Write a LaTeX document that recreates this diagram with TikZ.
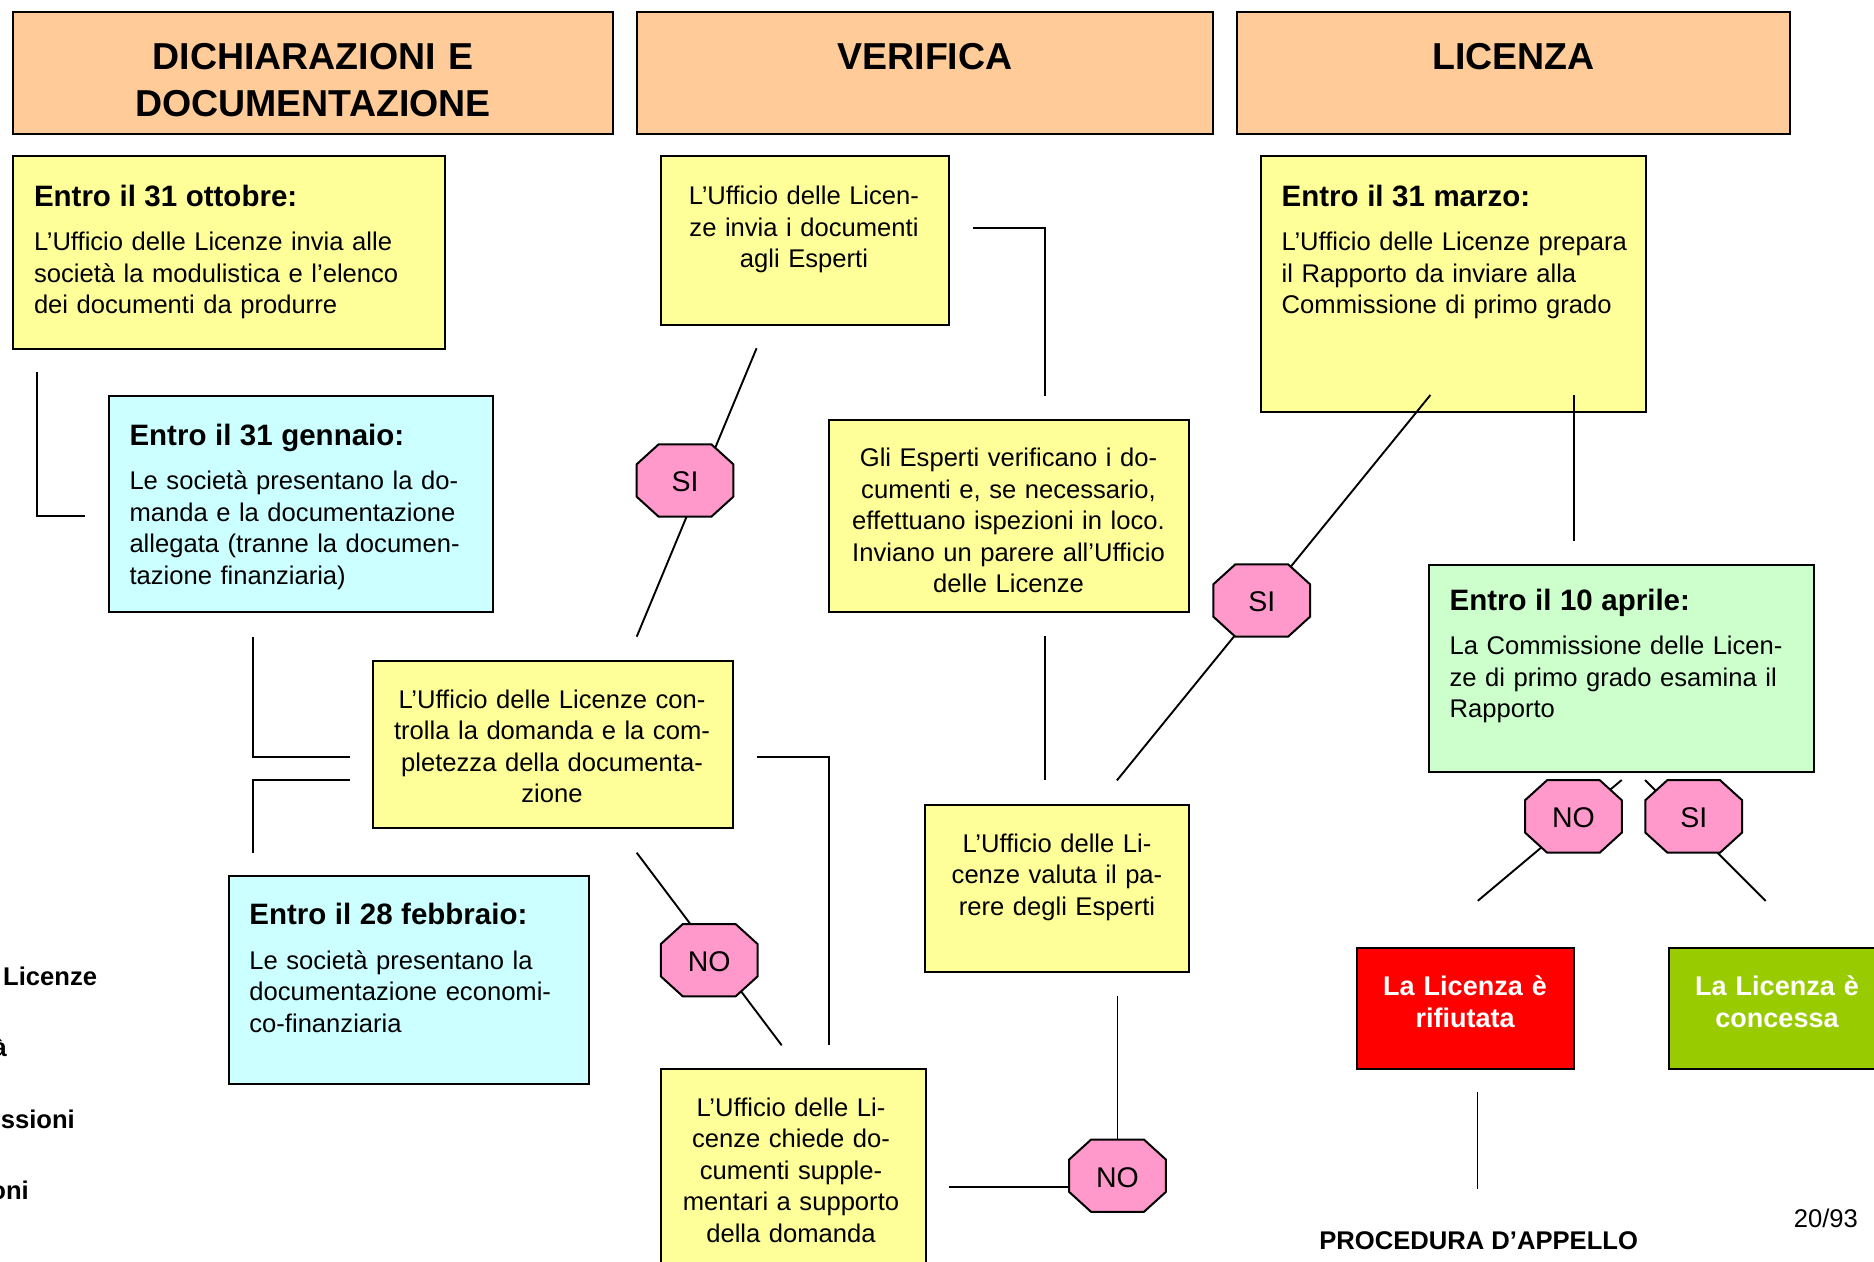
\documentclass[tikz,border=0pt]{standalone}
\usepackage{fontspec}
\setmainfont{Liberation Sans}
\usetikzlibrary{calc}
\definecolor{peach}{HTML}{FFCC99}
\definecolor{yel}{HTML}{FFFF99}
\definecolor{cyn}{HTML}{CCFFFF}
\definecolor{grn}{HTML}{CCFFCC}
\definecolor{pnk}{HTML}{FF99CC}
\definecolor{redc}{HTML}{FF0000}
\definecolor{lime}{HTML}{99CC00}
\newcommand\ttl[1]{{\fontsize{29.5}{31.5}\selectfont\bfseries #1}}
\newcommand\octagon[3]{%
  \filldraw[octshape] (#2) ++(-26.35,-36.2) -- ++(52.7,0) -- ++(22,20) -- ++(0,32.4)
    -- ++(-22,20) -- ++(-52.7,0) -- ++(-22,-20) -- ++(0,-32.4) -- cycle;
  \node[octtxt] (#1) at ($(#2)+(0,1.5)$) {#3};}
\tikzset{
  box/.style={draw=black, line width=2pt, anchor=north west, inner sep=0pt, outer sep=0pt},
  body/.style={font=\fontsize{25.6}{31.5}\selectfont, inner sep=0pt, outer sep=0pt},
  ltxt/.style={body, anchor=base west, align=left, text width=#1},
  ctxt/.style={body, anchor=base, align=center, text width=#1},
  hdr/.style={font=\fontsize{37.5}{46.9}\selectfont\bfseries, inner sep=0pt, anchor=base, align=center, text width=560pt},
  wtxt/.style={font=\fontsize{27}{31.7}\selectfont\bfseries, text=white, inner sep=0pt, anchor=base, align=center, text width=210pt},
  btxt/.style={font=\fontsize{25.6}{31.5}\selectfont\bfseries, inner sep=0pt},
  conn/.style={line width=1.9pt, draw=black},
  octshape/.style={fill=pnk, draw=black, line width=2pt},
  octtxt/.style={font=\fontsize{28.5}{31}\selectfont, inner sep=0pt},
}
\begin{document}
\begin{tikzpicture}[x=1pt, y=-1pt]
\useasboundingbox (0,0) rectangle (1874,1261);

% headers
\node[box, fill=peach, minimum width=600pt, minimum height=122pt] (h1) at (13,12) {};
\node[box, fill=peach, minimum width=576pt, minimum height=122pt] (h2) at (637,12) {};
\node[box, fill=peach, minimum width=553pt, minimum height=122pt] (h3) at (1237,12) {};
\node[hdr] (h1t) at (313,69.4) {DICHIARAZIONI E\\DOCUMENTAZIONE};
\node[hdr] (h2t) at (925,69.4) {VERIFICA};
\node[hdr] (h3t) at (1513.5,69.4) {LICENZA};

% boxes
\node[box, fill=yel, minimum width=432pt, minimum height=192.7pt] (A) at (13,156) {};
\node[ltxt=400pt] (At) at (34,206) {\ttl{Entro il 31 ottobre:}\\[13pt]L’Ufficio delle Licenze invia alle\\società la modulistica e l’elenco\\dei documenti da produrre};

\node[box, fill=cyn, minimum width=384.5pt, minimum height=216pt] (B) at (108.5,396) {};
\node[ltxt=360pt] (Bt) at (129.5,445) {\ttl{Entro il 31 gennaio:}\\[13pt]Le società presentano la do-\\manda e la documentazione\\allegata (tranne la documen-\\tazione finanziaria)};

\node[box, fill=yel, minimum width=288pt, minimum height=168.5pt] (C) at (661,156) {};
\node[ctxt=280pt] (Ct) at (804,204.5) {L’Ufficio delle Licen-\\ze invia i documenti\\agli Esperti};

\node[box, fill=yel, minimum width=360.4pt, minimum height=191.6pt] (D) at (829,420.4) {};
\node[ctxt=355pt] (Dt) at (1008.5,466.5) {Gli Esperti verificano i do-\\cumenti e, se necessario,\\effettuano ispezioni in loco.\\Inviano un parere all’Ufficio\\delle Licenze};

\node[box, fill=yel, minimum width=264.4pt, minimum height=167.3pt] (E) at (925,804.5) {};
\node[ctxt=260pt] (Et) at (1057,852) {L’Ufficio delle Li-\\cenze valuta il pa-\\rere degli Esperti};

\node[box, fill=yel, minimum width=384.9pt, minimum height=255.7pt] (F) at (1260.7,156.3) {};
\node[ltxt=360pt] (Ft) at (1281.7,206) {\ttl{Entro il 31 marzo:}\\[13pt]L’Ufficio delle Licenze prepara\\il Rapporto da inviare alla\\Commissione di primo grado};

\node[box, fill=grn, minimum width=384.3pt, minimum height=207.7pt] (G) at (1429.2,564.5) {};
\node[ltxt=360pt] (Gt) at (1449.6,610) {\ttl{Entro il 10 aprile:}\\[13pt]La Commissione delle Licen-\\ze di primo grado esamina il\\Rapporto};

\node[box, fill=yel, minimum width=359.6pt, minimum height=167.4pt] (I) at (373,660.8) {};
\node[ctxt=355pt] (It) at (552,708.3) {L’Ufficio delle Licenze con-\\trolla la domanda e la com-\\pletezza della documenta-\\zione};

\node[box, fill=cyn, minimum width=360.3pt, minimum height=207.7pt] (J) at (229,876.3) {};
\node[ltxt=340pt] (Jt) at (249.4,924.7) {\ttl{Entro il 28 febbraio:}\\[13pt]Le società presentano la\\documentazione economi-\\co-finanziaria};

\node[box, fill=yel, minimum width=264.7pt, minimum height=230pt] (H) at (661,1068.7) {};
\node[ctxt=262pt] (Ht) at (791,1116) {L’Ufficio delle Li-\\cenze chiede do-\\cumenti supple-\\mentari a supporto\\della domanda};

\node[box, fill=redc, minimum width=217.3pt, minimum height=120.7pt] (R) at (1356.7,948.3) {};
\node[wtxt] (Rt) at (1465,995.5) {La Licenza è\\rifiutata};
\node[box, fill=lime, minimum width=215pt, minimum height=120.7pt] (K) at (1669,948.3) {};
\node[wtxt] (Kt) at (1777,995.5) {La Licenza è\\concessa};

% free texts
\node[btxt, anchor=base] (proc) at (1478.7,1249.3) {PROCEDURA D’APPELLO};
\node[body, anchor=base] (pg) at (1825.8,1227) {20/93};
\node[btxt, anchor=base west] (f1) at (3,985) {Licenze};
\node[btxt, anchor=base east] (f2) at (7,1056.7) {à};
\node[btxt, anchor=base east] (f3) at (75,1128.3) {ssioni};
\node[btxt, anchor=base east] (f4) at (29,1199.3) {oni};

% octagon centres
\coordinate (si1c) at (685,480.5);
\coordinate (si2c) at (1261.7,600.5);
\coordinate (no1c) at (709.2,960.2);
\coordinate (no2c) at (1117.5,1175.7);
\coordinate (nogc) at (1573.4,816.4);
\coordinate (sigc) at (1693.7,816.4);

% connector end points
\coordinate (a1) at (37,372);      \coordinate (a2) at (85,516);
\coordinate (c1) at (973,227.8);   \coordinate (c2) at (1045,396);
\coordinate (s1) at (756.6,348.2); \coordinate (s2) at (636.7,636.7);
\coordinate (b1) at (253,636.5);   \coordinate (b2) at (349.5,756.7);
\coordinate (j1) at (349.5,780.4); \coordinate (j2) at (253,852.7);
\coordinate (i1) at (757.2,756.7); \coordinate (i2) at (829.1,1044.5);
\coordinate (n1) at (636.7,852.7); \coordinate (n2) at (781.7,1045.3);
\coordinate (d1) at (1045,636);    \coordinate (d2) at (1045,780);
\coordinate (f1a) at (1430.4,395); \coordinate (f1b) at (1116.9,780.4);
\coordinate (f2a) at (1573.7,395); \coordinate (f2b) at (1573.7,540.8);
\coordinate (e1) at (1117.5,995.5);
\coordinate (h1a) at (949,1187.3); \coordinate (h1b) at (1117.5,1187.3);
\coordinate (g1) at (1621.7,780);  \coordinate (g2) at (1477.8,900.8);
\coordinate (g3) at (1645,780);    \coordinate (g4) at (1765.7,901);
\coordinate (r1) at (1477.5,1092); \coordinate (r2) at (1477.5,1189.3);

% connectors
\draw[conn] (a1) |- (a2);
\draw[conn] (c1) -| (c2);
\draw[conn] (s1) -- (s2);
\draw[conn] (b1) |- (b2);
\draw[conn] (j1) -| (j2);
\draw[conn] (i1) -| (i2);
\draw[conn] (n1) -- (n2);
\draw[conn] (d1) -- (d2);
\draw[conn] (f1a) -- (f1b);
\draw[conn] (f2a) -- (f2b);
\draw[conn] (e1) -- (no2c);
\draw[conn] (h1a) -- (h1b);
\draw[conn] (g1) -- (g2);
\draw[conn] (g3) -- (g4);
\draw[conn] (r1) -- (r2);

% octagons
\octagon{si1}{si1c}{SI}
\octagon{si2}{si2c}{SI}
\octagon{no1}{no1c}{NO}
\octagon{no2}{no2c}{NO}
\octagon{nog}{nogc}{NO}
\octagon{sig}{sigc}{SI}
\end{tikzpicture}
\end{document}
